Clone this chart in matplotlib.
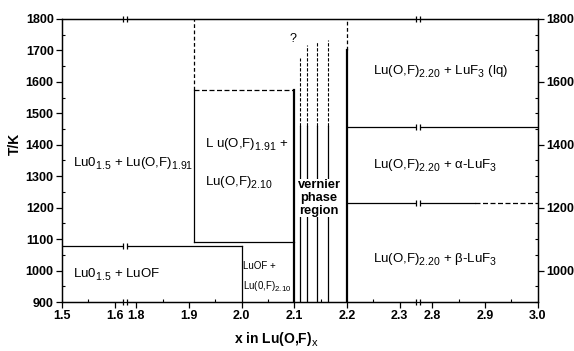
import numpy as np
import matplotlib
matplotlib.use("Agg")
import matplotlib.pyplot as plt
import matplotlib._mathtext as _mt
from matplotlib.path import Path
from matplotlib.ticker import FixedLocator, MultipleLocator

plt.rcParams['font.family'] = ['Liberation Sans', 'DejaVu Sans']
plt.rcParams['mathtext.fontset'] = 'custom'
plt.rcParams['mathtext.rm'] = 'Liberation Sans'
plt.rcParams['mathtext.it'] = 'Liberation Sans'
plt.rcParams['mathtext.bf'] = 'Liberation Sans:bold'
# larger, lower subscripts like the scanned original
_mt.SHRINK_FACTOR = 0.8
_mt.FontConstantsBase.sub1 = 0.45
_mt.FontConstantsBase.sub2 = 0.55

# ---- data ----
x_major = [1.5, 1.6, 1.8, 1.9, 2.0, 2.1, 2.2, 2.3, 2.8, 2.9, 3.0]
x_labels = ["1.5", "1.6", "1.8", "1.9", "2.0", "2.1", "2.2", "2.3", "2.8", "2.9", "3.0"]
x_minor = [1.55, 1.85, 1.95, 2.05, 2.15, 2.25, 2.85, 2.95]
left_yticks = [900, 1000, 1100, 1200, 1300, 1400, 1500, 1600, 1700, 1800]
right_yticks = [1000, 1200, 1400, 1600, 1800]

# break in x axis (data range kept / collapsed)
brk_x = [1.5, 1.62, 1.78, 2.335, 2.774, 3.0]
brk_u = [0.0, 0.12, 0.121, 0.676, 0.677, 0.903]

# horizontal phase boundaries: (T, x0, x1, style, lw)
h_lines = [
    (1077, 1.50, 2.00, '-', 0.9),
    (1090, 1.91, 2.10, '-', 0.9),
    (1574, 1.91, 2.10, '--', 0.9),
    (1457, 2.20, 3.00, '-', 0.9),
    (1214, 2.20, 2.88, '-', 0.9),
    (1214, 2.88, 3.00, '--', 0.9),
]
# vertical phase boundaries: (x, T0, T1, style, lw)
v_lines = [
    (1.91, 1090, 1574, '-', 0.9),
    (1.91, 1574, 1800, '--', 0.9),
    (2.00, 900, 1077, '-', 0.9),
    (2.10, 900, 1574, '-', 1.6),
    (2.20, 900, 1700, '-', 1.6),
    (2.20, 1700, 1800, '--', 0.9),
]
vernier_x = [2.110, 2.124, 2.142, 2.164]
vernier_top = [1675, 1716, 1729, 1732]
vernier_solid_top = 1460
break_marks_T = [(1.70, 900), (1.70, 1800), (1.70, 1077),
                 (2.55, 900), (2.55, 1800), (2.55, 1457), (2.55, 1214)]

labels = [
    (1.521, 1339, r"Lu0$_{1.5}$ + Lu(O,F)$_{1.91}$", 9.5),
    (1.521, 985, r"Lu0$_{1.5}$ + LuOF", 9.5),
    (1.93, 1400, r"L u(O,F)$_{1.91}$ +", 9.5),
    (1.93, 1280, r"Lu(O,F)$_{2.10}$", 9.5),
    (2.002, 1013, "LuOF +", 7),
    (2.002, 950, r"Lu(0,F)$_{2.10}$", 7),
    (2.25, 1632, r"Lu(O,F)$_{2.20}$ + LuF$_3$ (lq)", 9.5),
    (2.25, 1333, r"Lu(O,F)$_{2.20}$ + $\alpha$-LuF$_3$", 9.5),
    (2.25, 1034, r"Lu(O,F)$_{2.20}$ + $\beta$-LuF$_3$", 9.5),
]


def fwd(x):
    return np.interp(x, brk_x, brk_u)


def inv(u):
    return np.interp(u, brk_u, brk_x)


fig = plt.figure(figsize=(5.74, 3.51), dpi=100)
ax = fig.add_axes([0.108, 0.1396, 0.829, 0.8063])
ax.set_xscale('function', functions=(fwd, inv))
ax.set_xlim(1.5, 3.0)
ax.set_ylim(900, 1800)

for T, x0, x1, ls, lw in h_lines:
    if ls == '--':
        ax.plot([x0, x1], [T, T], color='black', lw=lw, dashes=(4, 2))
    else:
        ax.plot([x0, x1], [T, T], color='black', lw=lw)
for x, T0, T1, ls, lw in v_lines:
    if ls == '--':
        ax.plot([x, x], [T0, T1], color='black', lw=lw, dashes=(3, 2))
    else:
        ax.plot([x, x], [T0, T1], color='black', lw=lw)
for x, top in zip(vernier_x, vernier_top):
    ax.plot([x, x], [900, vernier_solid_top], color='black', lw=0.9)
    ax.plot([x, x], [vernier_solid_top, top], color='black', lw=0.8, dashes=(3, 1.5))

# break marks
bar_path = Path([(-0.6, -1), (-0.6, 1), (0.6, -1), (0.6, 1)],
                [Path.MOVETO, Path.LINETO, Path.MOVETO, Path.LINETO])
for xb, T in break_marks_T:
    ax.plot([xb], [T], marker='s', ms=3.2, mfc='white', mec='none', zorder=4, clip_on=False)
    ax.plot([xb], [T], marker=bar_path, ms=5, mec='black', mew=0.9, zorder=5, clip_on=False)

for x, T, s, fs in labels:
    ax.text(x, T, s, fontsize=fs, ha='left', va='center')

ax.text(2.097, 1736, "?", fontsize=9, ha='center', va='center')
ax.text(2.147, 1231, "vernier\nphase\nregion", fontsize=9.3, fontweight='bold',
        ha='center', va='center', linespacing=1.1,
        bbox=dict(facecolor='white', edgecolor='none', pad=0.3))

# ticks
ax.xaxis.set_major_locator(FixedLocator(x_major))
ax.set_xticklabels(x_labels)
ax.xaxis.set_minor_locator(FixedLocator(x_minor))
ax.yaxis.set_major_locator(FixedLocator(left_yticks))
ax.yaxis.set_minor_locator(MultipleLocator(50))
ax.tick_params(axis='both', which='major', direction='out', length=4, width=0.9,
               labelsize=9, pad=2)
ax.tick_params(axis='both', which='minor', direction='in', length=2.5, width=0.8)
for lab in ax.get_xticklabels() + ax.get_yticklabels():
    lab.set_fontweight('bold')

ax2 = ax.twinx()
ax2.set_ylim(900, 1800)
ax2.yaxis.set_major_locator(FixedLocator(right_yticks))
ax2.yaxis.set_minor_locator(MultipleLocator(50))
ax2.tick_params(axis='y', which='major', direction='out', length=4, width=0.9,
                labelsize=9, pad=2)
ax2.tick_params(axis='y', which='minor', direction='in', length=2.5, width=0.8)
for lab in ax2.get_yticklabels():
    lab.set_fontweight('bold')

for a in (ax, ax2):
    for sp in a.spines.values():
        sp.set_linewidth(0.9)

ax.set_xlabel(r"x in Lu(O,F)$_x$", fontsize=10, fontweight='bold')
ax.xaxis.set_label_coords(0.45, -0.1)
ax.set_ylabel("T/K", fontsize=10, fontweight='bold')
ax.yaxis.set_label_coords(-0.085, 0.56)

fig.savefig("out.png", dpi=100)
